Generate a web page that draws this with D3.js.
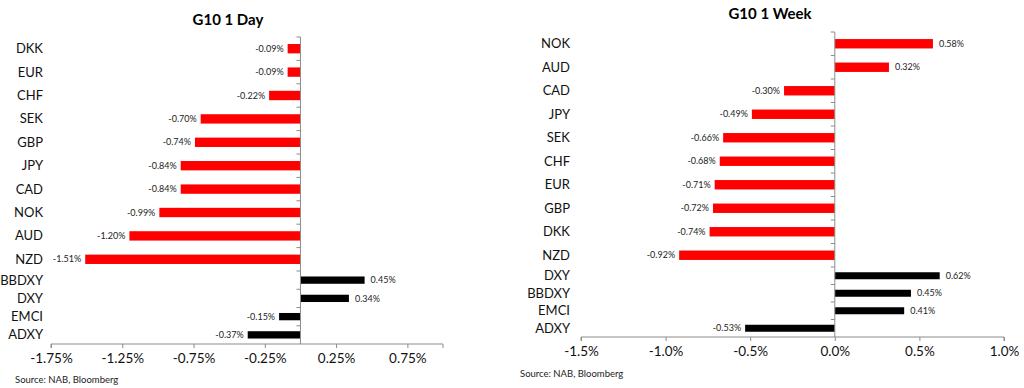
<!DOCTYPE html>
<html><head><meta charset="utf-8">
<script src="https://cdn.jsdelivr.net/npm/d3@7"></script>
<style>body{margin:0;background:#fff}svg{display:block}text{font-family:Lato,"Open Sans",sans-serif}</style>
</head><body><svg id="c" width="1024" height="388"></svg>
<script>
// Left chart: G10 1 Day
const dayCcy = ["DKK","EUR","CHF","SEK","GBP","JPY","CAD","NOK","AUD","NZD"];
const dayCcyVals = [-0.09,-0.09,-0.22,-0.70,-0.74,-0.84,-0.84,-0.99,-1.20,-1.51];
const dayIdx = ["BBDXY","DXY","EMCI","ADXY"];
const dayIdxVals = [0.45,0.34,-0.15,-0.37];
const dayTicks = [-1.75,-1.25,-0.75,-0.25,0.25,0.75];
// Right chart: G10 1 Week
const weekCcy = ["NOK","AUD","CAD","JPY","SEK","CHF","EUR","GBP","DKK","NZD"];
const weekCcyVals = [0.58,0.32,-0.30,-0.49,-0.66,-0.68,-0.71,-0.72,-0.74,-0.92];
const weekIdx = ["DXY","BBDXY","EMCI","ADXY"];
const weekIdxVals = [0.62,0.45,0.41,-0.53];
const weekTicks = [-1.5,-1.0,-0.5,0.0,0.5,1.0];

const svg = d3.select("#c");
const hy = s => s.replace(/\u2212/g,"-");

function drawChart(o){
  const g = svg.append("g");
  const x = d3.scaleLinear().domain(o.domain).range(o.xRange);
  const yA = d3.scaleBand().domain(o.cats1).range(o.yRange1).paddingInner(0.6).paddingOuter(0.3);
  const yB = d3.scaleBand().domain(o.cats2).range(o.yRange2).paddingInner(0.6).paddingOuter(0.3);
  const x0 = x(0);
  g.append("text").attr("x", o.titleX).attr("y", o.titleY).attr("text-anchor","middle")
    .attr("font-size",15).attr("font-weight","bold").attr("fill","#000").text(o.title);
  function bars(cats, vals, y, color){
    cats.forEach((c,i)=>{
      const v = vals[i];
      g.append("rect").attr("x", Math.min(x(v),x0)).attr("y", y(c))
        .attr("width", Math.abs(x(v)-x0)).attr("height", y.bandwidth()).attr("fill", color);
      const cy = y(c)+y.bandwidth()/2;
      g.append("text").attr("x", v<0 ? x(v)-4 : x(v)+6).attr("y", cy).attr("dy","0.35em")
        .attr("text-anchor", v<0 ? "end":"start").attr("font-size",9).attr("fill","#222")
        .text(hy(d3.format(".2f")(v))+"%");
      g.append("text").attr("x", o.labelX).attr("y", cy).attr("dy","0.35em")
        .attr("text-anchor","end").attr("font-size",13).attr("fill","#111").text(c);
    });
  }
  bars(o.cats1, o.vals1, yA, "#ff0000");
  bars(o.cats2, o.vals2, yB, "#000000");
  const yTop = o.yRange1[0], yBot = o.yRange2[1];
  g.append("line").attr("x1",x0).attr("x2",x0).attr("y1",yTop).attr("y2",yBot).attr("stroke","#8c8c8c");
  const step1 = yA.step(), step2 = yB.step();
  const bounds = [];
  o.cats1.forEach(c=>bounds.push(yA(c)-step1*0.3));
  o.cats2.forEach(c=>bounds.push(yB(c)-step2*0.3));
  bounds.forEach(b=>g.append("line").attr("x1",x0-4).attr("x2",x0).attr("y1",b).attr("y2",b).attr("stroke","#8c8c8c"));
  const ax = g.append("g").attr("transform",`translate(0,${yBot})`)
    .call(d3.axisBottom(x).tickValues(o.ticks).tickSize(4).tickFormat(d=>hy(o.fmt(d))+"%"));
  ax.select(".domain").attr("stroke","#8c8c8c").attr("d",`M${o.xRange[0]},4V0H${o.xRange[1]}V4`);
  ax.selectAll(".tick line").attr("stroke","#8c8c8c");
  ax.selectAll(".tick text").attr("font-size",13.5).attr("fill","#111").attr("font-family","Lato,'Open Sans',sans-serif").attr("y",9);
  g.append("text").attr("x",o.srcX).attr("y",o.srcY).attr("font-size",9.5).attr("fill","#222").text("Source: NAB, Bloomberg");
}

drawChart({
  title:"G10 1 Day", titleX:228, titleY:25,
  domain:[-1.75,1.0], xRange:[51,443],
  cats1:dayCcy, vals1:dayCcyVals, cats2:dayIdx, vals2:dayIdxVals,
  yRange1:[37,271], yRange2:[271,344],
  ticks:dayTicks, fmt:d3.format(".2f"), labelX:43, srcX:15, srcY:383
});
drawChart({
  title:"G10 1 Week", titleX:770, titleY:19,
  domain:[-1.5,1.0], xRange:[581,1004],
  cats1:weekCcy, vals1:weekCcyVals, cats2:weekIdx, vals2:weekIdxVals,
  yRange1:[32,267], yRange2:[267,337],
  ticks:weekTicks, fmt:d3.format(".1f"), labelX:570, srcX:520, srcY:377
});
</script></body></html>
